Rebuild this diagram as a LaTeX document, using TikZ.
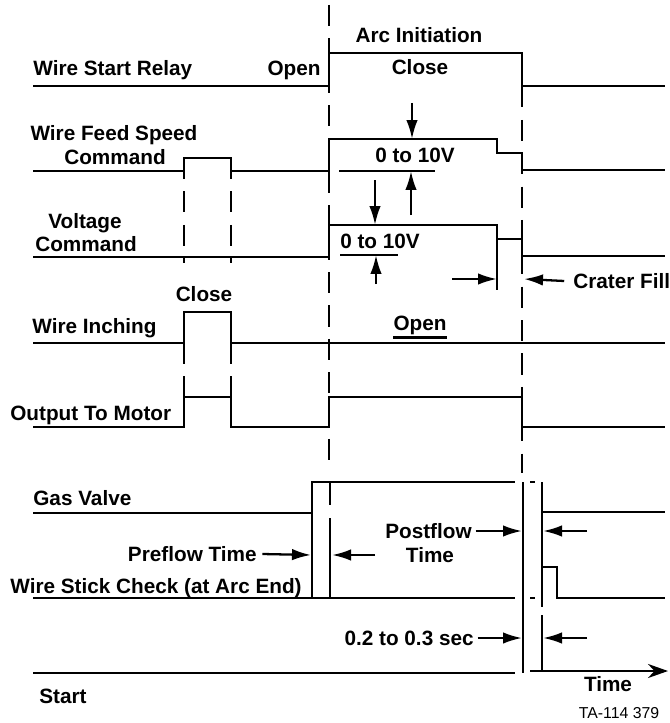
\documentclass[tikz,border=0pt]{standalone}
\usepackage{fontspec}
\setmainfont{Liberation Sans}
\usetikzlibrary{arrows.meta}
\tikzset{
  sig/.style={line width=1.4pt, line join=miter},
  guide/.style={line width=1.4pt, dash pattern=on 12pt off 7pt},
  dimarr/.style={-{Latex[length=3.8mm,width=2.3mm]}, line width=1.3pt},
  timeax/.style={-{Stealth[length=4mm,width=2.8mm]}, line width=1.4pt},
  lbl/.style={font=\fontsize{11.8}{13}\selectfont\bfseries, inner sep=0pt,
              text height=8.5pt, text depth=0pt},
  lblw/.style={lbl, anchor=west},
  tag/.style={font=\fontsize{9}{10}\selectfont, inner sep=0pt}
}

\begin{document}
\begin{tikzpicture}[x=0.02cm, y=-0.02cm]
\useasboundingbox (0,0) rectangle (669,723);

% dashed guides
\draw[guide] (329,5) -- (329,472);
\draw[guide] (522,53) -- (522,473);
\draw[guide] (184,158) -- (184,263);
\draw[guide] (231,158) -- (231,263);
\draw[guide] (184,343) -- (184,397);
\draw[guide] (231,343) -- (231,397);

% signal traces
\draw[sig] (33,86) -- (329,86) -- (329,53) -- (522,53) -- (522,86) -- (665,86);
\draw[sig] (33,171) -- (184,171) -- (184,158) -- (231,158) -- (231,171) -- (329,171)
  -- (329,139) -- (497,139) -- (497,153) -- (522,153) -- (522,170) -- (665,170);
\draw[sig] (33,257) -- (329,257) -- (329,225) -- (497,225) -- (497,239)
  -- (522,239) -- (522,256) -- (665,256);
\draw[sig] (33,343) -- (184,343) -- (184,312) -- (231,312) -- (231,343) -- (665,343);
\draw[sig] (33,427) -- (184,427) -- (184,397) -- (231,397) -- (231,427) -- (329,427)
  -- (329,397) -- (522,397) -- (522,427) -- (665,427);
\draw[sig] (33,513) -- (312,513) -- (312,482) -- (515,482);
\draw[sig] (530,482) -- (535,482);
\draw[sig] (542,482) -- (542,512) -- (665,512);
\draw[sig] (33,598) -- (515,598);
\draw[sig] (530,598) -- (535,598);
\draw[sig] (542,567) -- (557,567) -- (557,598) -- (665,598);

% event lines
\draw[sig] (312,513) -- (312,598);
\draw[sig] (330,482) -- (330,505);
\draw[sig] (330,518) -- (330,598);
\draw[sig] (523,482) -- (523,673);
\draw[sig] (542,482) -- (542,607);
\draw[sig] (542,615) -- (542,671);
\draw[sig] (497,239) -- (497,290);
\draw[sig] (339,171) -- (435,171);
\draw[sig] (340,255) -- (398,255);

% time axis
\draw[sig] (33,673) -- (515,673);
\coordinate (axs) at (530,671);
\coordinate (axe) at (668,671);
\draw[timeax] (axs) -- (axe);

% labels
\node[lbl] (arcinit) at (419,35) {Arc Initiation};
\node[lblw] (wsr) at (33,68) {Wire Start Relay};
\node[lbl] (wsropen) at (294,68) {Open};
\node[lbl] (wsrclose) at (420,67) {Close};
\node[lbl] (wfs1) at (114,133) {Wire Feed Speed};
\node[lbl] (wfs2) at (115,157) {Command};
\node[lbl] (wfsv) at (415,155) {0 to 10V};
\node[lbl] (vc1) at (85,221) {Voltage};
\node[lbl] (vc2) at (86,244) {Command};
\node[lbl] (vcv) at (380,241) {0 to 10V};
\node[lblw] (crater) at (573,281) {Crater Fill};
\node[lbl] (inclose) at (204,294) {Close};
\node[lblw] (winch) at (32,326) {Wire Inching};
\node[lbl] (inopen) at (420,323) {Open};
\draw[line width=1.4pt] ([yshift=-3.7pt]inopen.south west) -- ([yshift=-3.7pt]inopen.south east);
\node[lblw] (motor) at (10,413) {Output To Motor};
\node[lblw] (gas) at (33,498) {Gas Valve};
\node[lbl, anchor=east] (preflow) at (257,554) {Preflow Time};
\node[lblw] (stick) at (10,586) {Wire Stick Check (at Arc End)};
\node[lbl, anchor=east] (postflow) at (472,531) {Postflow};
\node[lbl] (posttime) at (430,555) {Time};
\node[lbl, anchor=east] (secs) at (474,638) {0.2 to 0.3 sec};
\node[lblw] (start) at (39,696) {Start};
\node[lbl] (timelbl) at (608,684) {Time};
\node[tag] (tanum) at (619,713) {TA-114 379};

% dimension arrows
\coordinate (wfsT) at (412,139);
\coordinate (wfsB) at (411,171);
\coordinate (vcT) at (375,225);
\coordinate (vcB) at (376,255);
\draw[dimarr] (412,103) -- (wfsT);
\draw[dimarr] (411,215) -- (wfsB);
\draw[dimarr] (375,180) -- (vcT);
\draw[dimarr] (376,284) -- (vcB);

\coordinate (cfL) at (497,279);
\coordinate (cfR) at (524,279);
\draw[dimarr] (452,279) -- (cfL);
\draw[dimarr] ([xshift=-5pt]crater.west) -- (cfR);

\coordinate (pfL) at (311,555);
\coordinate (pfR) at (332,555);
\draw[dimarr] ([xshift=3pt]preflow.east) -- (pfL);
\draw[dimarr] (375,555) -- (pfR);

\coordinate (poL) at (522,531);
\coordinate (poR) at (543,531);
\draw[dimarr] ([xshift=2pt]postflow.east) -- (poL);
\draw[dimarr] (587,531) -- (poR);

\coordinate (seL) at (522,638);
\coordinate (seR) at (543,638);
\draw[dimarr] ([xshift=2pt]secs.east) -- (seL);
\draw[dimarr] (587,638) -- (seR);

\end{tikzpicture}
\end{document}
